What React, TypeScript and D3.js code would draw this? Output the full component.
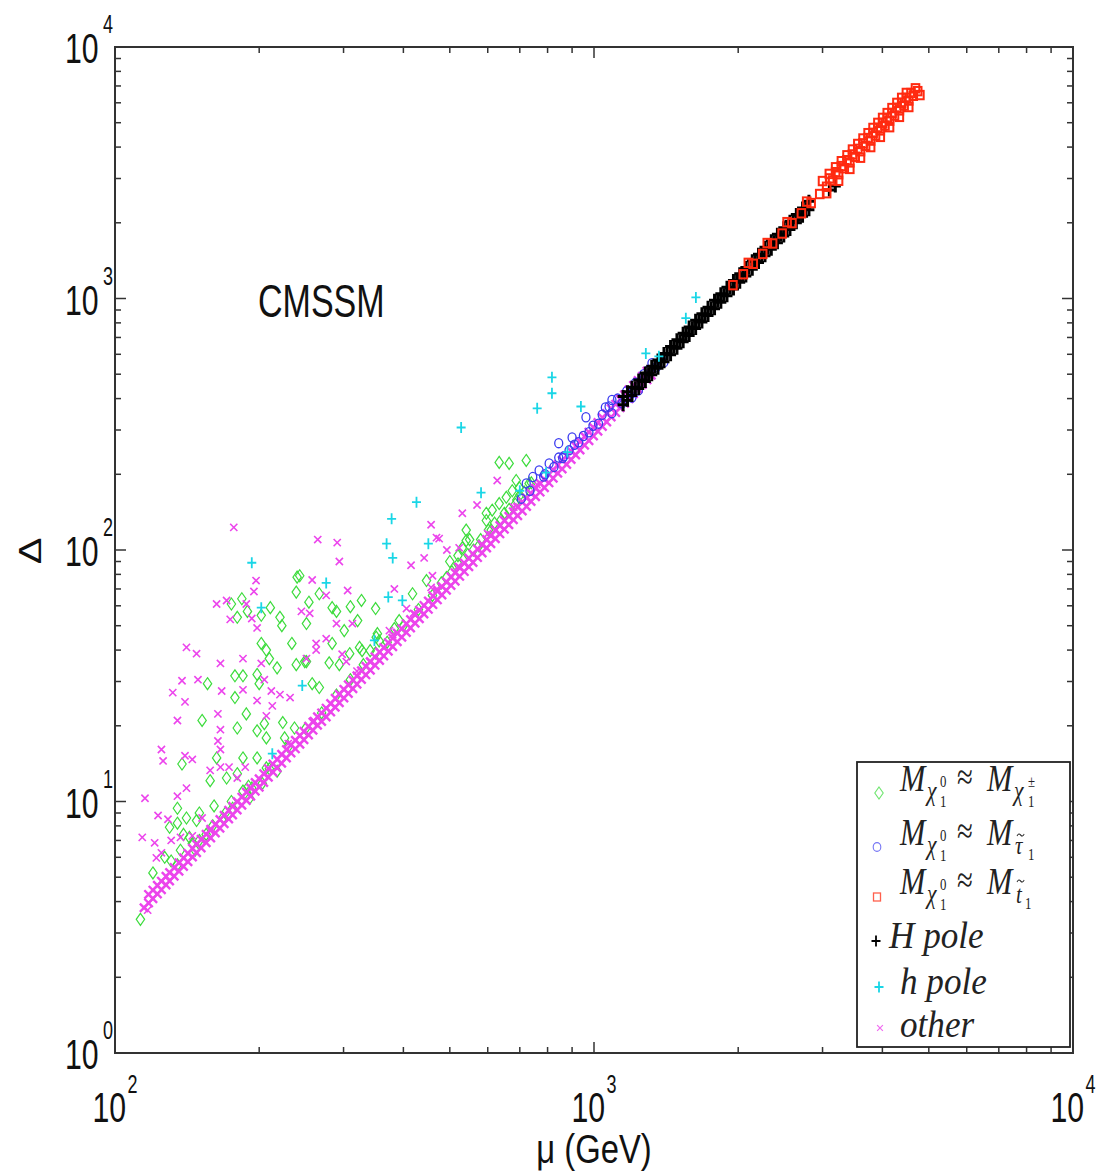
import React from 'react';
import * as d3 from 'd3';

// ---------- data (mu in GeV, Delta) ----------
const xTickValues = [100, 1000, 10000];
const xTickExp = ['2', '3', '4'];
const yTickValues = [1, 10, 100, 1000, 10000];
const yTickExp = ['0', '1', '2', '3', '4'];

// dense "other" band (four rows read along the band)
const otherBandA: [number, number][] = [
  [115, 3.78], [120, 4.11], [125, 4.46], [130, 4.83], [136, 5.28], [142, 5.76], [148, 6.26], [155, 6.86], [162, 7.5], [169, 8.16],
  [176, 8.85], [184, 9.67], [192, 10.5], [200, 11.4], [209, 12.5], [218, 13.6], [228, 14.9], [238, 16.2], [248, 17.6], [259, 19.2],
  [270, 20.8], [282, 22.7], [294, 24.7], [307, 26.9], [320, 29.3], [334, 31.9], [349, 34.8], [364, 37.9], [380, 41.3], [397, 45.0],
  [414, 49.0], [432, 53.3], [451, 58.1], [471, 63.4], [492, 69.2], [513, 75.2], [536, 82.1], [559, 89.3], [584, 97.4], [609, 106],
  [636, 116], [664, 126], [693, 137], [723, 149], [755, 163], [788, 177], [822, 193], [858, 210], [896, 229], [935, 250],
  [976, 272], [1019, 297], [1063, 323], [1110, 352], [1158, 383], [1209, 418], [1262, 455], [1317, 496],
];
const otherBandB: [number, number][] = [
  [117.5, 4.27], [122.6, 4.64], [127.8, 5.04], [132.9, 5.46], [139, 5.97], [145.1, 6.51], [151.3, 7.07], [158.4, 7.75], [165.6, 8.48], [172.7, 9.22],
  [179.9, 10.0], [188, 10.9], [196.2, 11.9], [204.4, 12.9], [213.6, 14.1], [222.8, 15.4], [233, 16.8], [243.2, 18.3], [253.5, 19.9], [264.7, 21.7],
  [276, 23.5], [288.2, 25.7], [300.5, 27.9], [313.8, 30.4], [327, 33.1], [341.3, 36.0], [356.7, 39.3], [372, 42.8], [388.4, 46.7], [405.7, 50.9],
  [423.1, 55.4], [441.5, 60.2], [460.9, 65.7], [481.4, 71.6], [502.8, 78.2], [524.3, 85.0], [547.8, 92.8], [571.3, 100.9], [596.8, 110], [622.4, 120],
  [650, 131], [678.6, 142], [708.2, 155], [738.9, 168], [771.6, 184], [805.3, 200], [840.1, 218], [876.9, 237], [915.7, 259], [955.6, 283],
  [997.5, 307], [1041, 336], [1086, 365], [1134, 398], [1183, 433], [1236, 472], [1290, 514],
];
const otherBandC: [number, number][] = [
  [117.5, 3.95], [122.6, 4.29], [127.8, 4.66], [132.9, 5.05], [139, 5.52], [145.1, 6.02], [151.3, 6.54], [158.4, 7.17], [165.6, 7.84], [172.7, 8.53],
  [179.9, 9.25], [188, 10.1], [196.2, 11.0], [204.4, 11.9], [213.6, 13.1], [222.8, 14.2], [233, 15.6], [243.2, 16.9], [253.5, 18.4], [264.7, 20.1],
  [276, 21.7], [288.2, 23.7], [300.5, 25.8], [313.8, 28.1], [327, 30.6], [341.3, 33.3], [356.7, 36.4], [372, 39.6], [388.4, 43.2], [405.7, 47.0],
  [423.1, 51.2], [441.5, 55.7], [460.9, 60.7], [481.4, 66.3], [502.8, 72.3], [524.3, 78.6], [547.8, 85.8], [571.3, 93.3], [596.8, 102], [622.4, 111],
  [650, 121], [678.6, 132], [708.2, 143], [738.9, 156], [771.6, 170], [805.3, 185], [840.1, 202], [876.9, 219], [915.7, 239], [955.6, 261],
  [997.5, 284], [1041, 310], [1086, 338], [1134, 368], [1183, 400], [1236, 437], [1290, 475],
];
const otherBandD: [number, number][] = [
  [120, 4.44], [125, 4.82], [130, 5.22], [136, 5.7], [142, 6.22], [148, 6.76], [155, 7.41], [162, 8.1], [169, 8.81],
  [176, 9.56], [184, 10.4], [192, 11.3], [200, 12.3], [209, 13.5], [218, 14.7], [228, 16.1], [238, 17.5], [248, 19.0], [259, 20.7],
  [270, 22.5], [282, 24.5], [294, 26.7], [307, 29.1], [320, 31.6], [334, 34.5], [349, 37.6], [364, 40.9], [380, 44.6], [397, 48.6],
  [414, 52.9], [432, 57.6], [451, 62.7], [471, 68.5], [492, 74.7], [513, 81.2], [536, 88.7], [559, 96.4], [584, 105], [609, 114],
  [636, 125], [664, 136], [693, 148], [723, 161], [755, 176], [788, 191], [822, 208], [858, 227], [896, 247], [935, 270],
  [976, 294], [1019, 321], [1063, 349], [1110, 380], [1158, 414], [1209, 451], [1262, 491],
];
const otherScatter: [number, number][] = [
  [177, 123], [197, 75.6], [195, 68.4], [163, 61], [171, 63], [188, 61], [174, 53], [193, 53.4], [198, 49], [245, 57], [141, 41], [148, 38.7],
  [166, 35.4], [185, 37], [202, 35.4], [138, 30.2], [149, 30.5], [132, 27.1], [167, 27.5], [185, 27.8], [212, 27.5], [205, 30.5],
  [265, 110], [291, 107], [294, 90], [258, 76], [276, 66], [306, 69], [255, 56], [290, 51], [313, 51], [263, 42.5], [251, 37], [304, 36],
  [320, 33], [457, 126], [475, 111], [523, 102], [493, 100], [415, 87], [442, 93], [460, 79], [570, 151], [531, 140], [383, 70],
  [628, 189], [469, 112], [406, 58.5], [457, 71], [298, 38.5], [276, 44.4], [374, 47.8], [263, 40],
  [140, 24.9], [135, 21], [164, 22.3], [166, 19.3], [125, 16.1], [126, 14.5], [140, 15.2], [145, 14.7], [164, 17.4], [166, 16.1],
  [115.5, 10.3], [135, 10.5], [141, 11.3], [158, 13.3], [166, 13.7], [173, 13.7], [123, 8.8], [129, 8.5], [114, 7.2], [121, 6.85],
  [131, 7.0], [137, 7.2], [145, 7.3], [125, 6.25], [122, 5.97], [152, 8.6], [158, 7.65], [180, 12.4], [187, 13.7], [198, 25.2],
  [213, 24], [232, 25.9], [207, 21.9], [221, 26.6], [117, 3.7],
  [230, 17], [260, 21], [300, 28], [340, 36], [380, 46], [420, 56], [470, 70], [520, 86], [600, 116], [680, 148], [760, 182], [840, 216],
];
const charginoPts: [number, number][] = [
  [240, 78], [239, 68], [254, 62], [175, 61], [184, 64], [180, 54], [189, 57], [202, 55], [211, 59], [221, 54], [223, 50], [251, 51],
  [234, 42.5], [202, 42.5], [207, 40], [210, 37], [218, 34], [239, 35], [251, 36], [198, 32], [178, 31.6], [185, 31.6], [156, 29.4], [200, 29.4],
  [350, 58.5], [327, 63], [310, 59.5], [284, 59], [284, 42.5], [324, 41], [351, 45], [249, 36], [280, 35.6], [294, 35], [258, 29.4], [267, 28.4],
  [309, 38.7], [596, 140], [602, 120], [541, 109],
  [178, 25.9], [152, 21], [180, 19.6], [188, 22.3], [198, 19.1], [205, 20.4], [224, 20.6], [207, 17.9], [226, 17.9], [237, 19.6], [138, 14.1],
  [163, 14.9], [158, 12.1], [171, 12.4], [180, 12.9], [185, 14.9], [198, 14.9], [207, 13.6], [218, 13.2],
  [135, 9.4], [141, 8.6], [130, 7.9], [150, 9.0], [161, 9.6], [175, 10.0], [191, 10.3], [203, 11.8], [143, 7.2], [137, 6.4], [131, 5.8],
  [120, 5.2], [135, 5.6], [147, 6.4], [155, 7.4], [168, 8.6], [176, 9.4], [185, 11.0], [193, 11.3], [113, 3.4], [127, 6.0], [135, 8.2],
  [148, 8.4], [139, 7.4], [145, 6.8],
  [634, 223], [665, 221], [722, 227], [688, 189], [243, 79], [267, 67], [290, 57], [301, 47.8], [321, 52.4], [353, 46.5], [356, 43.5],
  [328, 39.8], [341, 39.8], [383, 48.7], [392, 52.4], [418, 67], [447, 75.6], [492, 77.7], [531, 102], [541, 120], [596, 131], [634, 153],
  [656, 162], [675, 172], [698, 177], [732, 184], [613, 144],
  [400, 50], [430, 58], [460, 66], [480, 74], [520, 88], [560, 100], [580, 110], [620, 128], [650, 140], [690, 158], [700, 165], [740, 185],
  [150, 7.0], [160, 8.0], [170, 9.0], [190, 11.5], [210, 13.5], [230, 16.5], [250, 19.5], [270, 22.5], [290, 26.5], [310, 30.5], [330, 35],
  [350, 39], [370, 43],
  [505, 82], [545, 96], [575, 104], [610, 120], [640, 132], [665, 145], [685, 152], [715, 170], [500, 90], [520, 95], [550, 110],
];
const stauPts: [number, number][] = [
  [768, 207], [806, 221], [844, 233], [887, 249], [929, 268], [976, 294], [1022, 318], [1056, 369], [1090, 350], [1144, 383], [1200, 404],
  [1238, 431], [1350, 533], [1399, 557], [962, 337], [900, 280], [844, 266], [722, 184], [1321, 553], [1090, 395], [1200, 420],
  [745, 195], [790, 200], [865, 236],
  [705, 160], [735, 172], [785, 196], [825, 214], [860, 232], [910, 262], [950, 284], [995, 312], [1040, 345], [1075, 372],
  [1120, 400], [1170, 428], [1220, 462], [1270, 500], [1300, 520],
];
const stopPts: [number, number][] = [
  [1950, 1130], [2050, 1249], [2150, 1374], [2250, 1504], [2360, 1655], [2470, 1813], [2590, 1994], [2710, 2182], [2840, 2396], [2960, 2603],
  [3060, 2782], [3150, 2948], [3240, 3119], [3330, 3295], [3420, 3476], [3510, 3661], [3600, 3851], [3690, 4046], [3780, 4245], [3870, 4450],
  [3960, 4660], [4050, 4874], [4140, 5093], [4240, 5341], [4340, 5597], [4440, 5857], [4540, 6125], [4640, 6397], [4740, 6676],
  [3000, 2931], [3100, 3129], [3195, 3325], [3285, 3515], [3375, 3710], [3465, 3911], [3555, 4116], [3645, 4327], [3735, 4544], [3825, 4766],
  [3915, 4992], [4005, 5225], [4095, 5462], [4190, 5718], [4290, 5994], [4390, 6277], [4490, 6566],
  [2100, 1386], [2300, 1662], [2530, 2012], [2780, 2429], [4790, 6440],
  [3105, 3003], [3195, 3179], [3285, 3361], [3375, 3547], [3465, 3739], [3555, 3936], [3645, 4138], [3735, 4345], [3825, 4556],
  [3915, 4773], [4005, 4995], [4095, 5222], [4190, 5467], [4290, 5731], [4390, 6002], [4490, 6278], [4590, 6561], [4690, 6850],
  [3060, 2622], [3240, 2939], [3420, 3275], [3600, 3629], [3780, 4000], [3960, 4391], [4140, 4799], [4340, 5274], [4540, 5771],
];
const HpolePts: [number, number][] = [
  [1150, 378], [1175, 394], [1150, 408], [1175, 426],
  [1200, 411], [1240, 439], [1280, 468], [1320, 498], [1360, 528], [1400, 560], [1445, 597], [1490, 634], [1535, 673], [1580, 713],
  [1630, 759], [1680, 806], [1730, 855], [1785, 910], [1840, 967], [1895, 1026], [1955, 1092], [2015, 1160], [2075, 1230], [2140, 1308],
  [2205, 1389], [2275, 1479], [2345, 1571], [2415, 1666], [2490, 1771], [2565, 1880], [2645, 1999], [2725, 2122], [2810, 2256],
  [1200, 444], [1240, 474], [1280, 505], [1320, 538], [1360, 570], [1400, 605], [1445, 645], [1490, 685], [1535, 727], [1580, 770],
  [1630, 820], [1680, 870], [1730, 923], [1785, 983], [1840, 1044], [1895, 1108], [1955, 1179], [2015, 1253], [2075, 1328], [2140, 1413],
  [2205, 1500], [2275, 1597], [2345, 1697], [2415, 1799], [2490, 1913], [2565, 2030], [2645, 2159], [2725, 2292], [2810, 2436],
  [1220, 442], [1260, 472], [1300, 502], [1340, 534], [1380, 566], [1422, 601], [1467, 640], [1512, 679], [1557, 720], [1605, 765],
  [1655, 814], [1705, 864], [1757, 917], [1812, 976], [1867, 1035], [1925, 1101], [1985, 1171], [2045, 1243], [2107, 1319], [2172, 1402],
  [2240, 1491], [2310, 1586], [2380, 1683], [2452, 1787], [2527, 1897], [2605, 2016], [2685, 2142], [2767, 2275],
  [3100, 2700], [3190, 2800],
];
const hpolePts: [number, number][] = [
  [193, 89], [202, 59], [246, 28.9], [426, 155], [378, 133], [369, 106], [380, 93], [451, 106], [276, 74], [372, 65], [398, 63], [348, 43.7],
  [213, 15.5], [528, 307], [581, 169], [794, 203], [817, 486], [817, 420], [761, 366], [939, 372], [1283, 605], [1366, 589], [1555, 835],
  [1632, 1010], [700, 172], [880, 245],
];

// ---------- styles ----------
const GREEN = '#3ddc3d';
const BLUE = '#3a3af0';
const RED = '#ff2a10';
const BLACK = '#000000';
const CYAN = '#19d6e6';
const MAGENTA = '#ec45ec';
const SANS = 'Liberation Sans, Arial, Helvetica, sans-serif';
const SERIF = 'Liberation Serif, Times New Roman, serif';

const diamond = 'M0,-6L4.2,0L0,6L-4.2,0Z';
const plus = 'M-4.5,0H4.5M0,-5.5V5.5';
const bigPlus = 'M-5.5,0H5.5M0,-6.5V6.5';
const cross = 'M-3.6,-3.6L3.6,3.6M-3.6,3.6L3.6,-3.6';
const bandCross = 'M-4.2,-4.2L4.2,4.2M-4.2,4.2L4.2,-4.2';
const tildePath = 'M0,2 C1.5,-0.5 3,-0.5 4.5,1 C6,2.5 7.5,2.5 9,0';

export default function App() {
  const left = 115, right = 1073, top = 47, bottom = 1053;
  const x = d3.scaleLog().domain([1e2, 1e4]).range([left, right]);
  const y = d3.scaleLog().domain([1, 1e4]).range([bottom, top]);

  const isMajor = (v: number) => Math.abs(Math.log10(v) - Math.round(Math.log10(v))) < 1e-9;
  const xt = x.ticks();
  const yt = y.ticks();

  const marks = (pts: [number, number][], kind: string, color: string, key: string, sw?: number) =>
    pts.map((p, i) => {
      const cx = x(p[0]), cy = y(p[1]);
      const k = `${key}${i}`;
      if (kind === 'diamond') return <path key={k} d={diamond} transform={`translate(${cx},${cy})`} fill="none" stroke={color} strokeWidth={sw ?? 1.2} />;
      if (kind === 'circle') return <ellipse key={k} cx={cx} cy={cy} rx={4} ry={4.6} fill="none" stroke={color} strokeWidth={sw ?? 1.3} />;
      if (kind === 'square') return <rect key={k} x={cx - 3.8} y={cy - 4.2} width={7.6} height={8.4} fill="none" stroke={color} strokeWidth={sw ?? 2} />;
      if (kind === 'plus') return <path key={k} d={plus} transform={`translate(${cx},${cy})`} fill="none" stroke={color} strokeWidth={sw ?? 1.8} />;
      if (kind === 'bigplus') return <path key={k} d={bigPlus} transform={`translate(${cx},${cy})`} fill="none" stroke={color} strokeWidth={sw ?? 3} />;
      if (kind === 'bandcross') return <path key={k} d={bandCross} transform={`translate(${cx},${cy})`} fill="none" stroke={color} strokeWidth={sw ?? 2.4} />;
      return <path key={k} d={cross} transform={`translate(${cx},${cy})`} fill="none" stroke={color} strokeWidth={sw ?? 1.6} />;
    });

  const sx = 0.72;
  const axisColor = '#333';

  const serifPiece = (tx: number, ty: number, txt: string, size: number, italic: boolean, s = 0.8, key?: string) => (
    <text key={key} transform={`translate(${tx},${ty}) scale(${s},1)`} fontFamily={SERIF} fontSize={size}
      fontStyle={italic ? 'italic' : 'normal'} fill="#222">{txt}</text>
  );

  const mChiPrefix = (by: number, k: string) => [
    serifPiece(900, by, 'M', 38, true, 0.8, k + 'a'),
    serifPiece(927, by + 9, 'χ', 27, true, 0.8, k + 'b'),
    serifPiece(940, by - 4, '0', 16, false, 0.8, k + 'c'),
    serifPiece(940, by + 16, '1', 16, false, 0.8, k + 'd'),
    serifPiece(957, by - 2, '≈', 36, false, 0.8, k + 'e'),
    serifPiece(987, by, 'M', 38, true, 0.8, k + 'f'),
  ];

  const legendY = [793, 847, 897, 941, 987, 1028];

  return (
    <svg width={1102} height={1174} style={{ position: 'absolute', left: 0, top: 0, background: '#fff' }}>
      <rect x={0} y={0} width={1102} height={1174} fill="#fff" />
      {/* data */}
      {marks(charginoPts, 'diamond', GREEN, 'g')}
      {marks(otherScatter, 'cross', MAGENTA, 'os')}
      {marks(otherBandD, 'bandcross', MAGENTA, 'bd')}
      {marks(otherBandB, 'bandcross', MAGENTA, 'bb')}
      {marks(otherBandC, 'bandcross', MAGENTA, 'bc')}
      {marks(otherBandA, 'bandcross', MAGENTA, 'ba')}
      {marks(stauPts, 'circle', BLUE, 'b')}
      {marks(HpolePts, 'bigplus', BLACK, 'H')}
      {marks(stopPts, 'square', RED, 'r')}
      {marks(hpolePts, 'plus', CYAN, 'h')}

      {/* frame */}
      <rect x={left} y={top} width={right - left} height={bottom - top} fill="none" stroke={axisColor} strokeWidth={2} />
      {xt.map((v, i) => {
        const len = isMajor(v) ? 11 : 6;
        const px = x(v);
        return (
          <g key={'xt' + i}>
            <line x1={px} x2={px} y1={bottom} y2={bottom - len} stroke={axisColor} strokeWidth={1.5} />
            <line x1={px} x2={px} y1={top} y2={top + len} stroke={axisColor} strokeWidth={1.5} />
          </g>
        );
      })}
      {yt.map((v, i) => {
        const len = isMajor(v) ? 11 : 6;
        const py = y(v);
        return (
          <g key={'yt' + i}>
            <line x1={left} x2={left + len} y1={py} y2={py} stroke={axisColor} strokeWidth={1.5} />
            <line x1={right} x2={right - len} y1={py} y2={py} stroke={axisColor} strokeWidth={1.5} />
          </g>
        );
      })}

      {/* tick labels */}
      {xTickValues.map((v, i) => (
        <text key={'xl' + i} transform={`translate(${x(v)},1122) scale(${sx},1)`} textAnchor="middle" fontFamily={SANS} fontSize={42} fill="#111">
          10<tspan fontSize={25} dx={2} dy={-29}>{xTickExp[i]}</tspan>
        </text>
      ))}
      {yTickValues.map((v, i) => (
        <text key={'yl' + i} transform={`translate(113,${y(v) + 16}) scale(${sx},1)`} textAnchor="end" fontFamily={SANS} fontSize={42} fill="#111">
          10<tspan fontSize={25} dx={6} dy={-30}>{yTickExp[i]}</tspan>
        </text>
      ))}

      {/* axis labels */}
      <text transform={`translate(594,1163) scale(0.82,1)`} textAnchor="middle" fontFamily={SANS} fontSize={40} fill="#111">μ (GeV)</text>
      <text transform={`translate(41,551) scale(0.8,1) rotate(-90)`} textAnchor="middle" fontFamily={SANS} fontSize={40} fill="#111">Δ</text>
      <text transform={`translate(258,317) scale(0.74,1)`} fontFamily={SANS} fontSize={46} fill="#111">CMSSM</text>

      {/* legend */}
      <rect x={857} y={762} width={213} height={285} fill="#fff" stroke="#222" strokeWidth={1.8} />
      <path d={diamond} transform={`translate(879,${legendY[0]})`} fill="none" stroke={GREEN} strokeWidth={1.1} opacity={0.75} />
      <ellipse cx={877} cy={legendY[1]} rx={3.8} ry={4.4} fill="none" stroke={BLUE} strokeWidth={1.1} opacity={0.7} />
      <rect x={873.5} y={legendY[2] - 4} width={7} height={8} fill="none" stroke={RED} strokeWidth={1.3} opacity={0.75} />
      <path d={plus} transform={`translate(876,${legendY[3]})`} fill="none" stroke={BLACK} strokeWidth={1.8} />
      <path d={plus} transform={`translate(879,${legendY[4]})`} fill="none" stroke={CYAN} strokeWidth={1.8} />
      <path d={cross} transform={`translate(880,${legendY[5]}) scale(0.8)`} fill="none" stroke={MAGENTA} strokeWidth={1.5} opacity={0.8} />

      {mChiPrefix(791, 'r1')}
      {serifPiece(1014, 800, 'χ', 27, true, 0.8, 'r1g')}
      {serifPiece(1028, 787, '±', 16, false, 0.8, 'r1h')}
      {serifPiece(1028, 807, '1', 16, false, 0.8, 'r1i')}

      {mChiPrefix(845, 'r2')}
      {serifPiece(1015, 854, 'τ', 26, true, 0.8, 'r2g')}
      <path d={tildePath} transform="translate(1017,834) scale(0.8,1)" fill="none" stroke="#222" strokeWidth={1.1} />
      {serifPiece(1028, 860, '1', 16, false, 0.8, 'r2h')}

      {mChiPrefix(894, 'r3')}
      {serifPiece(1016, 903, 't', 26, true, 0.8, 'r3g')}
      <path d={tildePath} transform="translate(1017,880) scale(0.8,1)" fill="none" stroke="#222" strokeWidth={1.1} />
      {serifPiece(1025, 909, '1', 16, false, 0.8, 'r3h')}

      {serifPiece(889, 948, 'H pole', 37, true, 0.95, 'r4')}
      {serifPiece(900, 994, 'h pole', 37, true, 0.95, 'r5')}
      {serifPiece(900, 1037, 'other', 37, true, 0.95, 'r6')}
    </svg>
  );
}
